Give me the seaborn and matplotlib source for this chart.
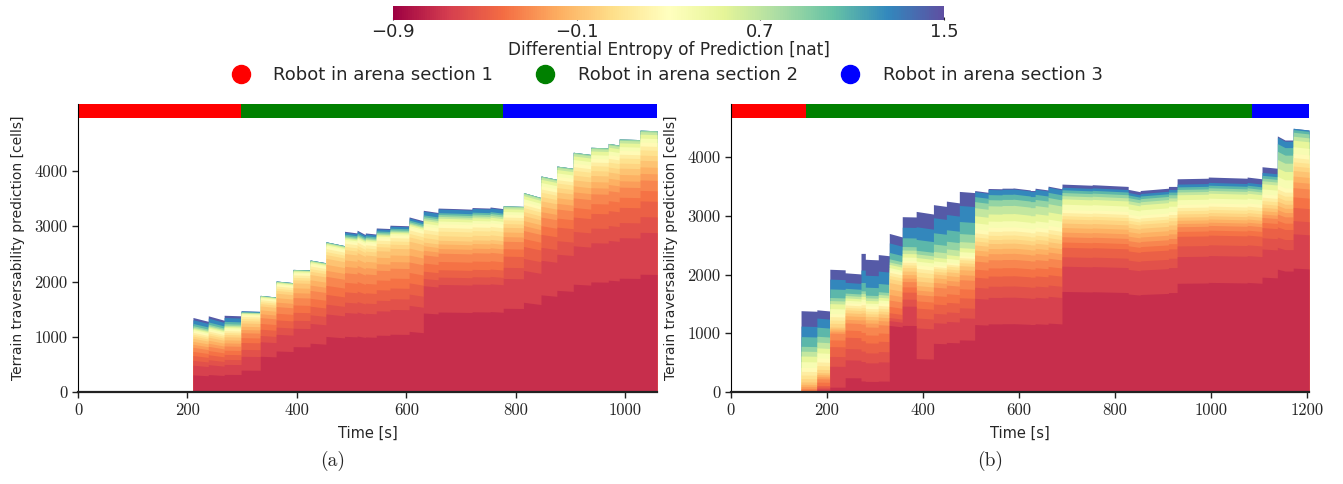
import numpy as np
import matplotlib
matplotlib.use('Agg')
import matplotlib.pyplot as plt
import seaborn as sns
from matplotlib.lines import Line2D

# entropy bin centres [nat] for the stacked layers
bin_entropy = [-0.72, -0.64, -0.56, -0.48, -0.40, -0.32, -0.24, -0.16, -0.08, 0.00,
               0.08, 0.16, 0.26, 0.38, 0.52, 0.68, 0.86, 1.06, 1.26, 1.45]

# share of cells in each entropy bin (rows = typical profiles)
a_profiles = [
    [0.23, 0.13, 0.065, 0.065, 0.055, 0.055, 0.04, 0.04, 0.04, 0.03, 0.025, 0.025, 0.02, 0.02, 0.015, 0.015, 0.02, 0.03, 0.05, 0.03],
    [0.27, 0.17, 0.085, 0.085, 0.06, 0.06, 0.04, 0.04, 0.04, 0.03, 0.025, 0.025, 0.02, 0.015, 0.005, 0.01, 0.005, 0.005, 0.01, 0.0],
    [0.37, 0.15, 0.065, 0.065, 0.06, 0.06, 0.04, 0.04, 0.04, 0.025, 0.02, 0.02, 0.015, 0.01, 0.008, 0.006, 0.004, 0.002, 0.0, 0.0],
    [0.35, 0.15, 0.065, 0.065, 0.06, 0.06, 0.04, 0.04, 0.04, 0.025, 0.02, 0.02, 0.015, 0.01, 0.008, 0.006, 0.008, 0.01, 0.012, 0.006],
    [0.435, 0.15, 0.04, 0.04, 0.045, 0.045, 0.025, 0.025, 0.02, 0.025, 0.025, 0.02, 0.02, 0.015, 0.015, 0.01, 0.01, 0.01, 0.02, 0.005],
    [0.45, 0.16, 0.06, 0.06, 0.04, 0.04, 0.025, 0.025, 0.025, 0.02, 0.02, 0.015, 0.015, 0.015, 0.015, 0.01, 0.005, 0.0, 0.0, 0.0],
]
b_profiles = [
    [0.0, 0.0, 0.0, 0.01, 0.015, 0.02, 0.025, 0.025, 0.03, 0.04, 0.045, 0.045, 0.05, 0.07, 0.07, 0.06, 0.06, 0.12, 0.13, 0.19],
    [0.02, 0.02, 0.02, 0.02, 0.04, 0.04, 0.025, 0.025, 0.025, 0.04, 0.045, 0.045, 0.05, 0.06, 0.06, 0.07, 0.07, 0.11, 0.11, 0.1],
    [0.04, 0.17, 0.08, 0.08, 0.055, 0.055, 0.017, 0.017, 0.016, 0.03, 0.027, 0.027, 0.026, 0.04, 0.04, 0.025, 0.025, 0.07, 0.08, 0.08],
    [0.12, 0.15, 0.095, 0.095, 0.06, 0.06, 0.03, 0.03, 0.025, 0.025, 0.02, 0.02, 0.02, 0.02, 0.02, 0.02, 0.02, 0.04, 0.05, 0.08],
    [0.08, 0.14, 0.075, 0.075, 0.06, 0.06, 0.03, 0.025, 0.025, 0.02, 0.02, 0.02, 0.02, 0.02, 0.02, 0.02, 0.02, 0.06, 0.09, 0.12],
    [0.42, 0.03, 0.02, 0.03, 0.04, 0.04, 0.035, 0.035, 0.04, 0.025, 0.02, 0.02, 0.015, 0.015, 0.02, 0.015, 0.02, 0.04, 0.06, 0.06],
    [0.38, 0.11, 0.04, 0.04, 0.03, 0.03, 0.02, 0.02, 0.02, 0.02, 0.015, 0.015, 0.01, 0.02, 0.02, 0.02, 0.02, 0.05, 0.06, 0.06],
    [0.185, 0.17, 0.055, 0.055, 0.04, 0.035, 0.025, 0.025, 0.025, 0.025, 0.025, 0.02, 0.02, 0.02, 0.02, 0.02, 0.02, 0.06, 0.07, 0.085],
    [0.26, 0.11, 0.05, 0.05, 0.045, 0.045, 0.025, 0.025, 0.02, 0.015, 0.015, 0.01, 0.01, 0.02, 0.02, 0.03, 0.04, 0.06, 0.08, 0.07],
    [0.335, 0.13, 0.055, 0.05, 0.04, 0.04, 0.03, 0.025, 0.025, 0.02, 0.02, 0.02, 0.02, 0.03, 0.035, 0.04, 0.03, 0.025, 0.025, 0.005],
    [0.478, 0.12, 0.045, 0.045, 0.025, 0.025, 0.022, 0.022, 0.021, 0.02, 0.015, 0.015, 0.015, 0.025, 0.025, 0.015, 0.015, 0.013, 0.012, 0.015],
    [0.51, 0.125, 0.05, 0.045, 0.023, 0.022, 0.015, 0.015, 0.015, 0.015, 0.015, 0.015, 0.015, 0.022, 0.023, 0.013, 0.012, 0.012, 0.013, 0.025],
    [0.48, 0.085, 0.04, 0.04, 0.025, 0.025, 0.017, 0.017, 0.016, 0.016, 0.016, 0.016, 0.017, 0.032, 0.033, 0.033, 0.032, 0.03, 0.025, 0.005],
    [0.47, 0.13, 0.05, 0.05, 0.04, 0.035, 0.022, 0.022, 0.021, 0.017, 0.016, 0.016, 0.016, 0.025, 0.025, 0.015, 0.015, 0.01, 0.005, 0.0],
]

# run (a): map update segments [s], total predicted cells at start / end of each
a_seg_start = [210, 238, 267, 298, 333, 362, 393, 424, 453, 487, 510, 525, 545, 570, 605,
               631, 658, 693, 720, 753, 777, 814, 846, 875, 905, 937, 969, 989, 1027]
a_end_time = 1058
a_top_start = [1350, 1380, 1390, 1470, 1750, 2010, 2220, 2390, 2720, 2910, 2930, 2880, 2970, 3020, 3170,
               3290, 3330, 3320, 3340, 3350, 3370, 3610, 3910, 4090, 4340, 4430, 4500, 4580, 4740]
a_top_end = [1280, 1300, 1380, 1460, 1720, 1980, 2210, 2340, 2650, 2880, 2850, 2860, 2960, 3010, 3100,
             3250, 3320, 3310, 3330, 3320, 3360, 3520, 3850, 4050, 4300, 4420, 4470, 4570, 4730]
a_profile_id = [0, 0, 0, 1, 2, 2, 2, 2, 2, 3, 3, 3, 3, 3, 3,
                4, 4, 4, 4, 4, 5, 5, 5, 5, 5, 5, 5, 5, 5]
a_sections = [0, 298, 777, 1058]

# run (b)
b_seg_start = [146, 179, 206, 238, 271, 280, 307, 330, 357, 386, 422, 449, 476, 508, 536, 565,
               588, 624, 634, 661, 690, 753, 828, 853, 912, 930, 995, 1076, 1107, 1139, 1155, 1172]
b_end_time = 1205
b_top_start = [1385, 1400, 2090, 2030, 2360, 2260, 2340, 2700, 2985, 3075, 3190, 3250, 3415, 3430, 3465, 3470,
               3475, 3430, 3470, 3505, 3540, 3530, 3450, 3430, 3500, 3630, 3660, 3660, 3835, 4360, 4290, 4490]
b_top_end = [1375, 1380, 2080, 2010, 2360, 2250, 2320, 2640, 2980, 3030, 3160, 3220, 3395, 3400, 3460, 3470,
             3440, 3430, 3440, 3460, 3520, 3500, 3410, 3470, 3500, 3640, 3640, 3630, 3810, 4290, 4290, 4460]
b_profile_id = [0, 1, 2, 3, 4, 4, 4, 5, 6, 7, 8, 8, 8, 9, 9, 9,
                9, 9, 9, 9, 10, 10, 10, 10, 10, 11, 11, 11, 11, 12, 12, 13]
b_sections = [0, 156, 1086, 1205]

section_colors = ['red', 'green', 'blue']
section_labels = ['Robot in arena section 1', 'Robot in arena section 2', 'Robot in arena section 3']
cbar_ticks = [-0.9, -0.1, 0.7, 1.5]

sns.set_style('ticks')
plt.rcParams['font.family'] = ['DejaVu Sans']

cmap = plt.get_cmap('Spectral')
norm = matplotlib.colors.Normalize(vmin=-0.9, vmax=1.5)
layer_colors = [cmap(norm(e)) for e in bin_entropy]


def draw_run(ax, seg_start, end_time, top_start, top_end, prof_id, profiles, sections, ymax, xticks):
    starts = np.array(seg_start, dtype=float)
    ends = np.append(starts[1:], end_time)
    x = np.column_stack([starts, ends]).ravel()
    tops = np.column_stack([top_start, top_end]).ravel()
    prof = np.array(profiles)
    prof = prof / prof.sum(axis=1, keepdims=True)
    shares = prof[np.repeat(prof_id, 2)]
    cum = np.cumsum(shares * tops[:, None], axis=1).T
    # paint highest-entropy layer first, each down to zero, so no seams show
    for k in range(len(bin_entropy) - 1, -1, -1):
        ax.fill_between(x, 0, cum[k], color=layer_colors[k], lw=0)

    for i, c in enumerate(section_colors):
        ax.axvspan(sections[i], sections[i + 1], ymin=0.951, ymax=1.0, color=c, lw=0)

    ax.set_xlim(0, end_time)
    ax.set_ylim(0, ymax)
    ax.set_xticks(xticks)
    ax.set_yticks([0, 1000, 2000, 3000, 4000])
    ax.tick_params(labelsize=12, labelfontfamily='cmr10', length=4, width=1, color='#222222')
    ax.set_xlabel('Time [s]', fontsize=10.5, labelpad=6)
    ax.set_ylabel('Terrain traversability prediction [cells]', fontsize=10, labelpad=7)
    sns.despine(ax=ax)
    ax.spines['left'].set_color('black')
    ax.spines['bottom'].set_color('#222222')
    ax.spines['bottom'].set_linewidth(1.6)


fig = plt.figure(figsize=(13.43, 4.84), dpi=100)
ax_a = fig.add_axes([0.0581, 0.190, 0.4311, 0.595])
ax_b = fig.add_axes([0.5443, 0.190, 0.4304, 0.595])

draw_run(ax_a, a_seg_start, a_end_time, a_top_start, a_top_end, a_profile_id, a_profiles,
         a_sections, 5213, range(0, 1001, 200))
draw_run(ax_b, b_seg_start, b_end_time, b_top_start, b_top_end, b_profile_id, b_profiles,
         b_sections, 4902, range(0, 1201, 200))

fig.text(0.248, 0.037, '(a)', fontsize=14, family='cmr10', ha='center')
fig.text(0.737, 0.037, '(b)', fontsize=14, family='cmr10', ha='center')

# colour bar on top
cax = fig.add_axes([0.2926, 0.9587, 0.4103, 0.0289])
sm = matplotlib.cm.ScalarMappable(norm=norm, cmap=cmap)
cb = fig.colorbar(sm, cax=cax, orientation='horizontal', ticks=cbar_ticks)
cb.outline.set_visible(False)
cb.ax.tick_params(labelsize=13, length=2, direction='in', pad=2)
cb.set_label('Differential Entropy of Prediction [nat]', fontsize=12.2, labelpad=0)

handles = [Line2D([], [], ls='', marker='o', markersize=13, color=c) for c in section_colors]
fig.legend(handles, section_labels, loc='center', bbox_to_anchor=(0.4935, 0.845), ncol=3,
           frameon=False, fontsize=13, handletextpad=0.8, columnspacing=1.9)

fig.savefig('out.png', dpi=100)
plt.close(fig)
